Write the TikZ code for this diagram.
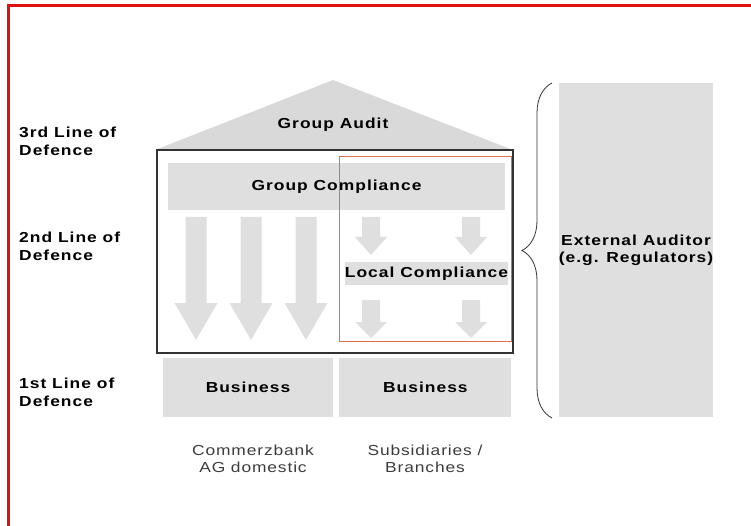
\documentclass[tikz,border=0pt]{standalone}
\usepackage{fontspec}
\setmainfont{Liberation Sans}
\newfontfamily\lblfont[FakeStretch=1.2, LetterSpace=7]{Liberation Sans}
\newfontfamily\capfont[FakeStretch=1.2, LetterSpace=6]{Liberation Sans}
\usepackage{xcolor}
\usepackage{tikz}
\usetikzlibrary{decorations.pathreplacing, positioning}

\definecolor{boxgray}{HTML}{DFDFDF}
\definecolor{roofgray}{HTML}{D9D9D9}
\definecolor{framered}{HTML}{E01010}
\definecolor{localorange}{HTML}{DE6E4E}
\definecolor{captiongray}{HTML}{3C3C3C}

% block arrow: x, top, tip, shaft half width, head half width, head length
\newcommand\blockarrow[6]{%
  \fill[boxgray] (#1-#4,#2) -- (#1+#4,#2) -- (#1+#4,#3-#6) -- (#1+#5,#3-#6)
    -- (#1,#3) -- (#1-#5,#3-#6) -- (#1-#4,#3-#6) -- cycle;}

\begin{document}
\begin{tikzpicture}[
    x=1pt, y=-1pt,
    bar/.style={rectangle, fill=boxgray, inner sep=0pt, align=center, font=\lblfont\bfseries\fontsize{14.5}{17}\selectfont},
    lineof/.style={anchor=west, align=left, inner sep=0pt, font=\lblfont\bfseries\fontsize{14.5}{18}\selectfont},
    unit/.style={align=center, inner sep=0pt, text=captiongray, font=\capfont\fontsize{14.5}{17}\selectfont}
]
\useasboundingbox (0,0) rectangle (751,526);

% red frame, top and left only
\draw[framered, line width=3pt] (8.5,526) -- (8.5,6) -- (751,6);

% roof
\fill[roofgray] (333,80) -- (513,150) -- (155,150) -- cycle;
\node[font=\lblfont\bfseries\fontsize{14.5}{18}\selectfont, inner sep=0pt] (audit) at (333,125) {Group Audit};

% 2nd line block
\draw[black!80, line width=1.2pt] (157,150) rectangle (513,353);
\node[bar, minimum width=337pt, minimum height=47pt] (gc) at (336.5,186.5) {Group Compliance};

\blockarrow{196}{217}{340}{10.5}{21.5}{37}
\blockarrow{251}{217}{340}{10.5}{21.5}{37}
\blockarrow{306}{217}{340}{10.5}{21.5}{37}

\blockarrow{371}{217}{255}{9}{16}{18}
\blockarrow{471}{217}{255}{9}{16}{18}
\node[bar, minimum width=163pt, minimum height=23pt] (lc) at (426.5,273.5) {Local Compliance};
\blockarrow{371}{300}{338}{9}{16}{16}
\blockarrow{471}{300}{338}{9}{16}{16}

\draw[localorange, line width=1pt] (339,157) rectangle (511,341);

% 1st line
\node[bar, minimum width=170pt, minimum height=59pt] (busA) at (248,387.5) {Business};
\node[bar, minimum width=172pt, minimum height=59pt, right=6pt of busA] (busB) {Business};

\node[unit] (dom) at (253,459) {Commerzbank\\AG domestic};
\node[unit] (sub) at (425,459) {Subsidiaries /\\Branches};

% line labels
\node[lineof] (l3) at (19,141) {3rd Line of\\Defence};
\node[lineof] (l2) at (19,246) {2nd Line of\\Defence};
\node[lineof] (l1) at (19,392.5) {1st Line of\\Defence};

% external auditor
\node[bar, minimum width=152pt, minimum height=334pt] (ext) at (636,250) {External Auditor\\(e.g. Regulators)};
\draw[black!80, line width=0.8pt, decorate, decoration={brace, amplitude=30pt}]
    (552,418) -- (552,83);

\end{tikzpicture}
\end{document}
